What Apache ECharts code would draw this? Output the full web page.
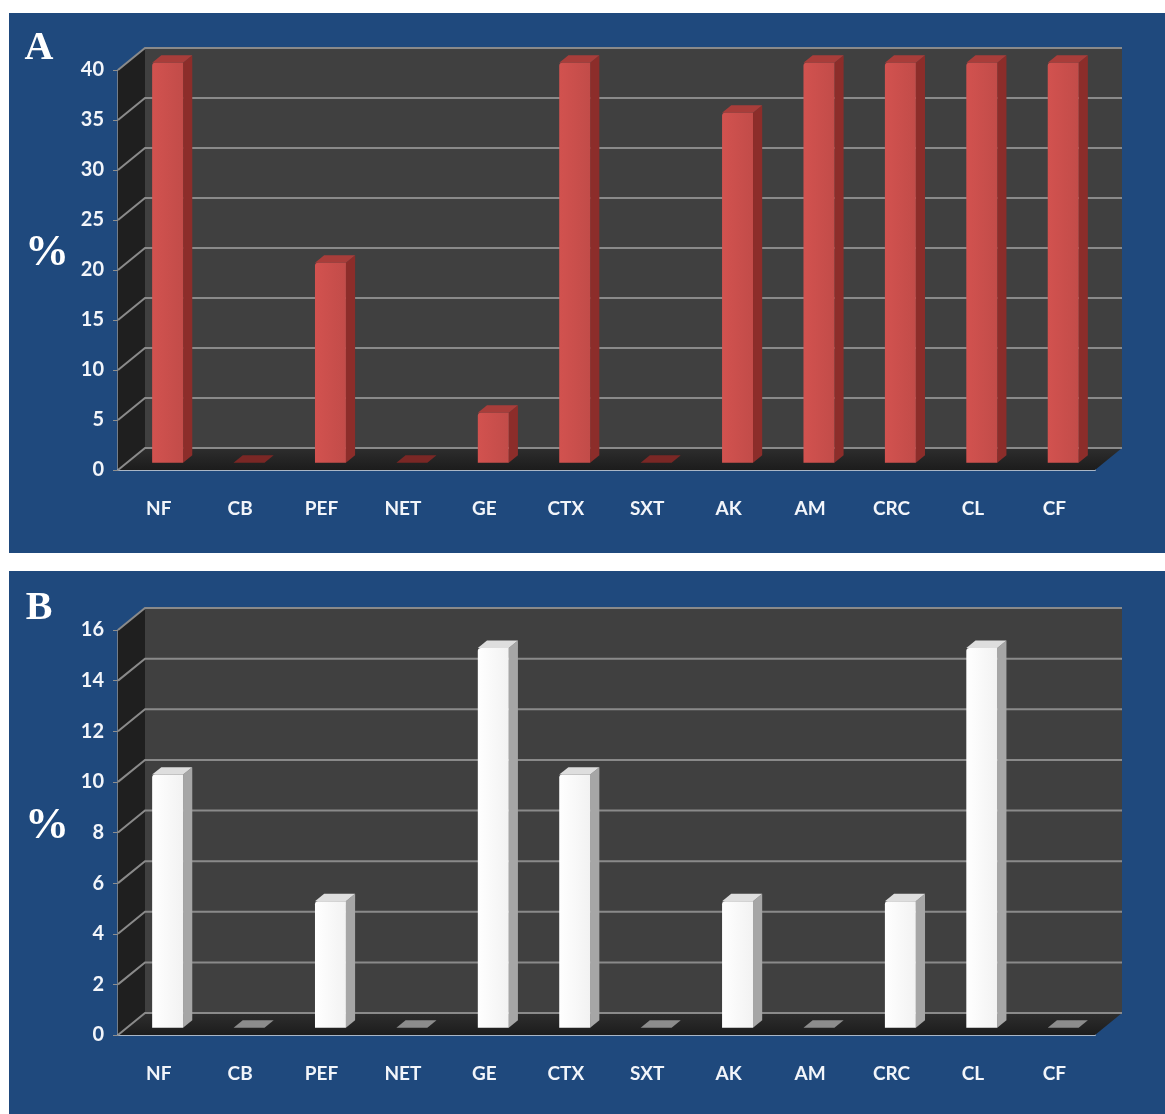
<!DOCTYPE html>
<html>
<head>
<meta charset="utf-8">
<script src="https://cdn.jsdelivr.net/npm/echarts@6/dist/echarts.min.js"></script>
<style>
  html, body { margin: 0; padding: 0; background: #ffffff; }
  #chart { width: 1165px; height: 1114px; }
</style>
</head>
<body>
<div id="chart"></div>
<script>
// Antibiotic categories shared by both panels
const categories = ['NF', 'CB', 'PEF', 'NET', 'GE', 'CTX', 'SXT', 'AK', 'AM', 'CRC', 'CL', 'CF'];
// Panel A values (%)
const valuesA = [40, 0, 20, 0, 5, 40, 0, 35, 40, 40, 40, 40];
// Panel B values (%)
const valuesB = [10, 0, 5, 0, 15, 10, 0, 5, 0, 5, 15, 0];
// Value-axis ticks
const ticksA = [0, 5, 10, 15, 20, 25, 30, 35, 40];
const ticksB = [0, 2, 4, 6, 8, 10, 12, 14, 16];

// Depth vector of the pseudo-3D box (front plane -> back wall)
const DX = 27, DY = -22;

const LABEL_FONT = 'Lato, "Open Sans", sans-serif';
const SERIF = '"Liberation Serif", "DejaVu Serif", serif';

function frameItem(params, api) {
  const r = params.coordSys;
  const x0 = r.x, x1 = r.x + r.width, y0 = r.y, y1 = r.y + r.height;
  return {
    type: 'group',
    children: [
      { type: 'polygon', shape: { points: [[x0 + DX, y0 + DY], [x1 + DX, y0 + DY], [x1 + DX, y1 + DY], [x0 + DX, y1 + DY]] },
        style: { fill: '#404040' } },
      { type: 'polygon', shape: { points: [[x0, y0], [x0 + DX, y0 + DY], [x0 + DX, y1 + DY], [x0, y1]] },
        style: { fill: '#1f1f1f' } },
      { type: 'polygon', shape: { points: [[x0, y1], [x1, y1], [x1 + DX, y1 + DY], [x0 + DX, y1 + DY]] },
        style: { fill: { type: 'linear', x: 0, y: 0, x2: 0, y2: 1,
          colorStops: [{ offset: 0, color: '#2e2e2e' }, { offset: 1, color: '#1c1c1c' }] } } }
    ]
  };
}

function gridItem(params, api) {
  const r = params.coordSys;
  const x0 = r.x, x1 = r.x + r.width;
  const y = api.coord([0, api.value(1)])[1];
  return {
    type: 'polyline',
    shape: { points: [[x0, y], [x0 + DX, y + DY], [x1 + DX, y + DY]] },
    style: { stroke: '#8a8a8a', lineWidth: 2, fill: null }
  };
}

function makeBarItem(colors) {
  return function (params, api) {
    const i = api.value(0), v = api.value(1);
    const base = api.coord([i, 0]);
    const top = api.coord([i, v]);
    const band = api.size([1, 0])[0];
    const w = band * 0.38;
    const f0 = 0.33, f1 = 0.67;
    const ox = DX * f0, oy = DY * f0;
    const dx = DX * (f1 - f0), dy = DY * (f1 - f0);
    const xl = base[0] - w / 2 + ox, xr = base[0] + w / 2 + ox;
    const yb = base[1] + oy, yt = top[1] + oy;
    if (v === 0) {
      return {
        type: 'polygon',
        shape: { points: [[xl, yb], [xr, yb], [xr + dx, yb + dy], [xl + dx, yb + dy]] },
        style: { fill: colors.flat }
      };
    }
    return {
      type: 'group',
      children: [
        { type: 'polygon', shape: { points: [[xr, yb], [xr, yt], [xr + dx, yt + dy], [xr + dx, yb + dy]] },
          style: { fill: colors.side } },
        { type: 'polygon', shape: { points: [[xl, yt], [xr, yt], [xr + dx, yt + dy], [xl + dx, yt + dy]] },
          style: { fill: colors.top } },
        { type: 'rect', shape: { x: xl, y: yt, width: xr - xl, height: yb - yt, r: [3, 0, 0, 0] },
          style: { fill: { type: 'linear', x: 0, y: 0, x2: 1, y2: 0,
            colorStops: [{ offset: 0, color: colors.front1 }, { offset: 1, color: colors.front2 }] } } }
      ]
    };
  };
}

const redBar = { front1: '#d2524f', front2: '#c24c49', side: '#8c2d2a', top: '#a83d3a', flat: '#7a2725' };
const whiteBar = { front1: '#ffffff', front2: '#f2f2f2', side: '#a6a6a6', top: '#dedede', flat: '#8c8c8c' };

function xAxisFor(gridIndex) {
  return {
    type: 'category', gridIndex, data: categories,
    axisLine: { lineStyle: { color: '#a9b6c6', width: 2 } },
    axisTick: { length: 7, lineStyle: { color: '#a9b6c6', width: 1.5 } },
    axisLabel: { color: '#f2f5fa', fontFamily: LABEL_FONT, fontWeight: 'bold', fontSize: 19, margin: 29 },
    splitLine: { show: false }
  };
}
function yAxisFor(gridIndex, ticks) {
  return {
    type: 'value', gridIndex,
    min: ticks[0], max: ticks[ticks.length - 1], interval: ticks[1] - ticks[0],
    axisLine: { show: true, lineStyle: { color: '#8f8f8f', width: 1.5 } },
    axisTick: { show: true, length: 5, lineStyle: { color: '#8f8f8f' } },
    axisLabel: { color: '#f2f5fa', fontFamily: LABEL_FONT, fontWeight: 'bold', fontSize: 20, margin: 14 },
    splitLine: { show: false }
  };
}

const chart = echarts.init(document.getElementById('chart'), null, { renderer: 'canvas' });
chart.setOption({
  backgroundColor: '#ffffff',
  animation: false,
  graphic: [
    { type: 'rect', shape: { x: 9, y: 13, width: 1156, height: 540 }, style: { fill: '#1f497d' }, z: -10 },
    { type: 'rect', shape: { x: 9, y: 571, width: 1156, height: 543 }, style: { fill: '#1f497d' }, z: -10 },
    { type: 'text', x: 39, y: 49, z: 10, style: { text: 'A', fill: '#ffffff', font: 'bold 40px ' + SERIF, textAlign: 'center', textVerticalAlign: 'middle' } },
    { type: 'text', x: 47, y: 254, z: 10, style: { text: '%', fill: '#ffffff', font: 'bold 44px ' + SERIF, textAlign: 'center', textVerticalAlign: 'middle' } },
    { type: 'text', x: 39, y: 609, z: 10, style: { text: 'B', fill: '#ffffff', font: 'bold 40px ' + SERIF, textAlign: 'center', textVerticalAlign: 'middle' } },
    { type: 'text', x: 47, y: 827, z: 10, style: { text: '%', fill: '#ffffff', font: 'bold 44px ' + SERIF, textAlign: 'center', textVerticalAlign: 'middle' } }
  ],
  grid: [
    { left: 118, top: 70, width: 977, height: 400 },
    { left: 118, top: 630, width: 977, height: 405 }
  ],
  xAxis: [xAxisFor(0), xAxisFor(1)],
  yAxis: [yAxisFor(0, ticksA), yAxisFor(1, ticksB)],
  series: [
    { type: 'custom', xAxisIndex: 0, yAxisIndex: 0, renderItem: frameItem, data: [[0, 0]], z: 1, silent: true },
    { type: 'custom', xAxisIndex: 0, yAxisIndex: 0, renderItem: gridItem, data: ticksA.map(t => [0, t]), z: 2, silent: true },
    { type: 'custom', xAxisIndex: 0, yAxisIndex: 0, renderItem: makeBarItem(redBar), data: valuesA.map((v, i) => [i, v]), z: 3 },
    { type: 'custom', xAxisIndex: 1, yAxisIndex: 1, renderItem: frameItem, data: [[0, 0]], z: 1, silent: true },
    { type: 'custom', xAxisIndex: 1, yAxisIndex: 1, renderItem: gridItem, data: ticksB.map(t => [0, t]), z: 2, silent: true },
    { type: 'custom', xAxisIndex: 1, yAxisIndex: 1, renderItem: makeBarItem(whiteBar), data: valuesB.map((v, i) => [i, v]), z: 3 }
  ]
});
</script>
</body>
</html>
